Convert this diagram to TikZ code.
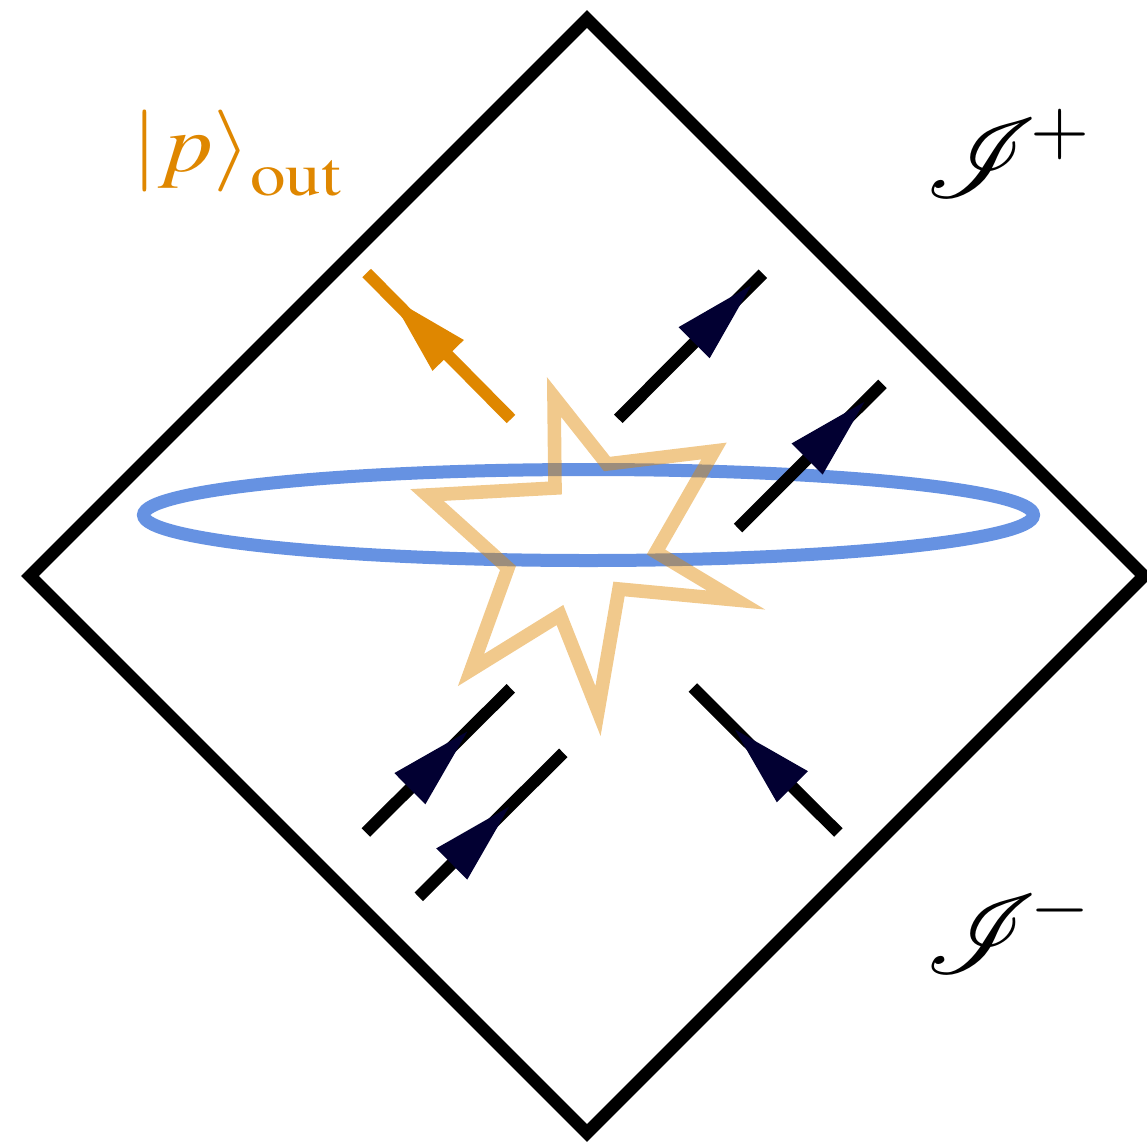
\RequirePackage{fix-cm}
\documentclass[tikz,border=0pt]{standalone}
\usepackage{mathptmx}
\usepackage{mathrsfs}
\DeclareFontFamily{U}{rsfs}{\skewchar\font127 }
\DeclareFontShape{U}{rsfs}{m}{n}{<-6> rsfs5 <6-8> rsfs7 <8-> rsfs10}{}
\usetikzlibrary{calc}
\definecolor{porange}{RGB}{223,135,0}
\definecolor{pblue}{RGB}{102,146,226}
\definecolor{pnavy}{RGB}{2,0,50}
\tikzset{
  frame/.style={line width=6.3pt, line join=miter, black},
  ring/.style={line width=6.5pt, pblue},
  burst/.style={line width=6.8pt, line join=miter, porange, opacity=0.45},
  arrowline/.style={line width=6pt, line cap=butt},
  lbl/.style={inner sep=0pt, anchor=base west},
}
% name, tail, end, tip fraction, line colour, head colour
\newcommand\flowarrow[6]{%
  \coordinate (#1a) at (#2);
  \coordinate (#1b) at (#3);
  \draw[arrowline, #5] (#1a) -- (#1b);
  \coordinate (#1t) at ($(#1a)!#4!(#1b)$);
  \coordinate (#1m) at ($(#1t)!40.5pt!(#1a)$);
  \fill[#6] (#1t) -- ($(#1m)!11pt!90:(#1t)$) -- ($(#1m)!11pt!-90:(#1t)$) -- cycle;
}
\newcommand\scri[2]{{\fontsize{56}{60}\selectfont$\mathscr{I}$}\hspace{-3.5pt}\raisebox{#2}{\fontsize{38}{44}\selectfont$#1$}}
\begin{document}
\begin{tikzpicture}[x=0.5pt, y=-0.5pt]
  \useasboundingbox (0,0) rectangle (1147,1142);
  % Penrose diamond
  \coordinate (top) at (587,19);
  \coordinate (right) at (1144,576);
  \coordinate (bottom) at (587,1133);
  \coordinate (left) at (30,576);
  \draw[frame] (top) -- (right) -- (bottom) -- (left) -- cycle;
  % ring
  \coordinate (ringc) at (588.5,515);
  \draw[ring] (ringc) ellipse [x radius=445, y radius=45.5];
  % burst star
  \draw[burst] (554,397) -- (607,464) -- (714,451) -- (656,552) -- (736,600)
     -- (619,589) -- (598,711) -- (560,615) -- (471,670) -- (508,568)
     -- (427,495) -- (555,488) -- cycle;
  % arrows
  \flowarrow{o1}{511,419}{366.7,273}{0.83}{porange}{porange}
  \flowarrow{n1}{365.8,832.5}{510.8,688.3}{0.70}{black}{pnavy}
  \flowarrow{n2}{418.8,896.8}{563.3,752.8}{0.625}{black}{pnavy}
  \flowarrow{n3}{618.3,418.8}{762.8,273.7}{0.92}{black}{pnavy}
  \flowarrow{n4}{738,528}{882.5,383.8}{0.875}{black}{pnavy}
  \flowarrow{n5}{838.3,832.5}{692.8,687.5}{0.71}{black}{pnavy}
  % labels
  \node[lbl, text=porange, font=\fontsize{41}{48}\selectfont] (ket) at (131,171)
    {\scalebox{1.17}[1]{$|p\rangle_{\raisebox{-6pt}{$\scriptstyle\mathrm{out}$}}$}};
  \node[lbl] (scriplus) at (925,197) {\scri{+}{22pt}};
  \node[lbl] (scriminus) at (925,973) {\scri{-}{22pt}};
\end{tikzpicture}
\end{document}
